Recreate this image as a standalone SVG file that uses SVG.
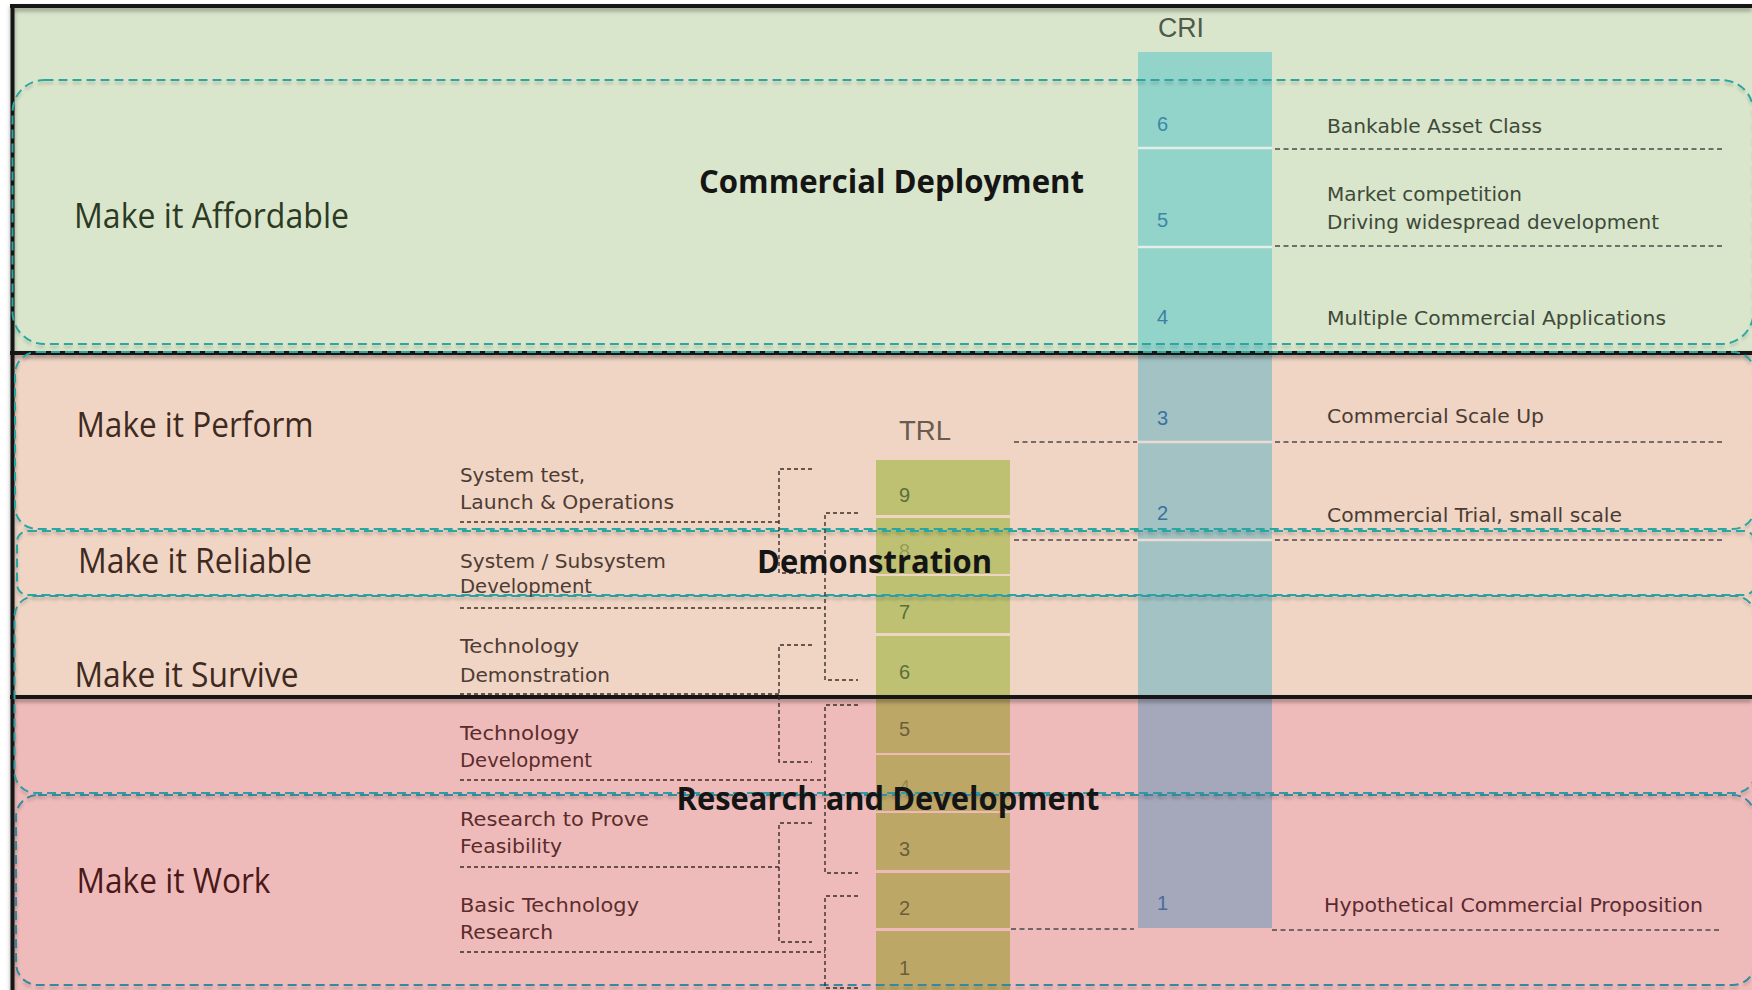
<svg xmlns="http://www.w3.org/2000/svg" width="1752" height="990" viewBox="0 0 1752 990">
<defs>
<filter id="lineShadow" x="-5%" y="-200%" width="110%" height="500%">
<feDropShadow dx="0" dy="3" stdDeviation="2" flood-color="#000" flood-opacity="0.35"/>
</filter>
<filter id="dashShadow" x="-5%" y="-10%" width="110%" height="120%">
<feDropShadow dx="0" dy="3" stdDeviation="1.5" flood-color="#000" flood-opacity="0.18"/>
</filter>
<style>
.big{font-family:'Open Sans','Noto Sans',sans-serif;font-size:34px;}
.title{font-family:'Open Sans','Noto Sans',sans-serif;font-size:32px;font-weight:700;fill:#151515;}
.small{font-family:'DejaVu Sans','Noto Sans',sans-serif;font-size:19.5px;}
.num{font-family:'Liberation Sans',Arial,sans-serif;font-size:20px;}
.axis{font-family:'Liberation Sans',Arial,sans-serif;font-size:27px;}
.zone{fill:none;stroke-width:2;stroke-dasharray:9 5;}
.black{stroke:#141414;stroke-width:4;fill:none;}
.conn{fill:none;stroke:#3A2E28;stroke-width:1.4;stroke-dasharray:4 3;}
.rconn{fill:none;stroke:#4A4A4A;stroke-width:1.4;stroke-dasharray:5 3.5;}
.div{stroke-width:2.5;}
</style>
</defs>
<rect width="1752" height="990" fill="#ffffff"/>

<g id="bands">
<rect x="12" y="6" width="1750" height="347" fill="#DAE6CB"/>
<rect x="12" y="353" width="1750" height="344" fill="#F0D5C4"/>
<rect x="12" y="697" width="1750" height="300" fill="#EFBBBA"/>
</g>

<g id="cri-column">
<rect x="1138" y="52" width="134" height="301" fill="#92D3CA"/>
<rect x="1138" y="353" width="134" height="344" fill="#A3C2C4"/>
<rect x="1138" y="697" width="134" height="231" fill="#A5A7BB"/>
<line class="div" x1="1138" y1="148" x2="1272" y2="148" stroke="#E3EFE6"/>
<line class="div" x1="1138" y1="247" x2="1272" y2="247" stroke="#E3EFE6"/>
<line class="div" x1="1138" y1="442" x2="1272" y2="442" stroke="#EADCD3"/>
<line class="div" x1="1138" y1="540" x2="1272" y2="540" stroke="#EADCD3"/>
</g>

<g id="trl-column">
<rect x="876" y="460" width="134" height="55" fill="#BEC172"/>
<rect x="876" y="518" width="134" height="56" fill="#BEC172"/>
<rect x="876" y="576" width="134" height="57" fill="#BEC172"/>
<rect x="876" y="636" width="134" height="59" fill="#BEC172"/>
<rect x="876" y="698" width="134" height="55" fill="#BDA767"/>
<rect x="876" y="755" width="134" height="56" fill="#BDA767"/>
<rect x="876" y="813" width="134" height="57" fill="#BDA767"/>
<rect x="876" y="873" width="134" height="55" fill="#BDA767"/>
<rect x="876" y="931" width="134" height="64" fill="#BDA767"/>
</g>

<g id="frame" filter="url(#lineShadow)">
<line class="black" x1="10" y1="6" x2="1752" y2="6"/>
<line class="black" x1="12.5" y1="4" x2="12.5" y2="990"/>
<line class="black" x1="10" y1="353" x2="1752" y2="353"/>
<line class="black" x1="10" y1="697" x2="1752" y2="697"/>
</g>

<g id="zones" filter="url(#dashShadow)">
<rect id="zone-affordable" class="zone" x="12.5" y="80" width="1741" height="264" rx="32" stroke="#2AA8A0"/>
<rect id="zone-perform" class="zone" x="15" y="352" width="1740" height="177" rx="22" stroke="#2BA6A2"/>
<rect id="zone-reliable" class="zone" x="17" y="531" width="1738" height="64" rx="11" stroke="#2BA6A2"/>
<rect id="zone-survive" class="zone" x="14.5" y="596" width="1741" height="197" rx="21" stroke="#2E9CA2"/>
<rect id="zone-work" class="zone" x="16" y="795" width="1739" height="190" rx="22" stroke="#34889D"/>
</g>

<g id="connectors">
<path class="conn" d="M460,522 H779"/>
<path class="conn" d="M460,608 H825"/>
<path class="conn" d="M460,694 H779"/>
<path class="conn" d="M460,780 H825"/>
<path class="conn" d="M460,867 H779"/>
<path class="conn" d="M460,952 H825"/>
<path class="conn" d="M812,469 H779 V573 H812"/>
<path class="conn" d="M858,513 H825 V680 H858"/>
<path class="conn" d="M812,645 H779 V762 H812"/>
<path class="conn" d="M858,705 H825 V873 H858"/>
<path class="conn" d="M812,823 H779 V942 H812"/>
<path class="conn" d="M858,896 H825 V988 H858"/>
<path class="rconn" d="M1275,149 H1722"/>
<path class="rconn" d="M1275,246 H1722"/>
<path class="rconn" d="M1014,442 H1137 M1275,442 H1722"/>
<path class="rconn" d="M1014,540 H1137 M1275,540 H1722"/>
<path class="rconn" d="M1011,929 H1134 M1272,930 H1720"/>
</g>

<g id="axis-labels">
<text class="axis" x="1158" y="37" fill="#4E5A4C" textLength="46" lengthAdjust="spacingAndGlyphs">CRI</text>
<text class="axis" x="899" y="440" fill="#6A5A50" textLength="52" lengthAdjust="spacingAndGlyphs">TRL</text>
</g>

<g id="cri-levels">
<text class="num" x="1157" y="131" fill="#3B88A8">6</text>
<text class="num" x="1157" y="227" fill="#3B88A8">5</text>
<text class="num" x="1157" y="324" fill="#3B80A2">4</text>
<text class="num" x="1157" y="425" fill="#3A72A0">3</text>
<text class="num" x="1157" y="520" fill="#3A72A0">2</text>
<text class="num" x="1157" y="910" fill="#4A6AA0">1</text>
</g>

<g id="trl-levels">
<text class="num" x="899" y="502" fill="#5A6E3A">9</text>
<text class="num" x="899" y="558" fill="#5A6E3A" opacity="0.45">8</text>
<text class="num" x="899" y="619" fill="#5A6E3A">7</text>
<text class="num" x="899" y="679" fill="#5A6E3A">6</text>
<text class="num" x="899" y="736" fill="#6A5E3A">5</text>
<text class="num" x="899" y="794" fill="#6A5E3A" opacity="0.45">4</text>
<text class="num" x="899" y="856" fill="#6A5E3A">3</text>
<text class="num" x="899" y="915" fill="#6A5E3A">2</text>
<text class="num" x="899" y="975" fill="#6A5E3A">1</text>
</g>

<g id="goal-affordable"><text class="big" x="74" y="228" fill="#2C3A24" textLength="275" lengthAdjust="spacingAndGlyphs">Make it Affordable</text></g>
<g id="goal-perform"><text class="big" x="76.5" y="437" fill="#3E2A20" textLength="237" lengthAdjust="spacingAndGlyphs">Make it Perform</text></g>
<g id="goal-reliable"><text class="big" x="78" y="573" fill="#3E2A20" textLength="234" lengthAdjust="spacingAndGlyphs">Make it Reliable</text></g>
<g id="goal-survive"><text class="big" x="74.5" y="687" fill="#3E2A20" textLength="224" lengthAdjust="spacingAndGlyphs">Make it Survive</text></g>
<g id="goal-work"><text class="big" x="76.5" y="893" fill="#4A1818" textLength="194" lengthAdjust="spacingAndGlyphs">Make it Work</text></g>

<g id="stage-labels" fill="#4E3C34">
<g id="lbl-system-test"><text class="small" x="460" y="482" textLength="125" lengthAdjust="spacingAndGlyphs">System test,</text><text class="small" x="460" y="509" textLength="214" lengthAdjust="spacingAndGlyphs">Launch &amp; Operations</text></g>
<g id="lbl-subsystem"><text class="small" x="460" y="568" textLength="206" lengthAdjust="spacingAndGlyphs">System / Subsystem</text><text class="small" x="460" y="593" textLength="132" lengthAdjust="spacingAndGlyphs">Development</text></g>
<g id="lbl-tech-demo"><text class="small" x="460" y="653" textLength="119" lengthAdjust="spacingAndGlyphs">Technology</text><text class="small" x="460" y="682" textLength="150" lengthAdjust="spacingAndGlyphs">Demonstration</text></g>
<g id="lbl-tech-dev" fill="#5A2C2C"><text class="small" x="460" y="740" textLength="119" lengthAdjust="spacingAndGlyphs">Technology</text><text class="small" x="460" y="767" textLength="132" lengthAdjust="spacingAndGlyphs">Development</text></g>
<g id="lbl-feasibility" fill="#5A2C2C"><text class="small" x="460" y="826" textLength="189" lengthAdjust="spacingAndGlyphs">Research to Prove</text><text class="small" x="460" y="853" textLength="102" lengthAdjust="spacingAndGlyphs">Feasibility</text></g>
<g id="lbl-basic" fill="#5A2C2C"><text class="small" x="460" y="912" textLength="179" lengthAdjust="spacingAndGlyphs">Basic Technology</text><text class="small" x="460" y="939" textLength="93" lengthAdjust="spacingAndGlyphs">Research</text></g>
</g>

<g id="commercial-labels">
<g id="cri6"><text class="small" x="1327" y="133" fill="#3E4A3A" textLength="215" lengthAdjust="spacingAndGlyphs">Bankable Asset Class</text></g>
<g id="cri5"><text class="small" x="1327" y="201" fill="#3E4A3A" textLength="195" lengthAdjust="spacingAndGlyphs">Market competition</text><text class="small" x="1327" y="229" fill="#3E4A3A" textLength="332" lengthAdjust="spacingAndGlyphs">Driving widespread development</text></g>
<g id="cri4"><text class="small" x="1327" y="325" fill="#3E4A3A" textLength="339" lengthAdjust="spacingAndGlyphs">Multiple Commercial Applications</text></g>
<g id="cri3"><text class="small" x="1327" y="423" fill="#4A3C34" textLength="217" lengthAdjust="spacingAndGlyphs">Commercial Scale Up</text></g>
<g id="cri2"><text class="small" x="1327" y="522" fill="#4A3C34" textLength="295" lengthAdjust="spacingAndGlyphs">Commercial Trial, small scale</text></g>
<g id="cri1"><text class="small" x="1324" y="912" fill="#5A2A30" textLength="379" lengthAdjust="spacingAndGlyphs">Hypothetical Commercial Proposition</text></g>
</g>

<g id="phase-titles">
<g id="phase-commercial"><text class="title" x="699" y="193" textLength="385" lengthAdjust="spacingAndGlyphs">Commercial Deployment</text></g>
<g id="phase-demo"><text class="title" x="757" y="573" textLength="235" lengthAdjust="spacingAndGlyphs">Demonstration</text></g>
<g id="phase-rnd"><text class="title" x="676.5" y="810" textLength="423" lengthAdjust="spacingAndGlyphs">Research and Development</text></g>
</g>
</svg>
